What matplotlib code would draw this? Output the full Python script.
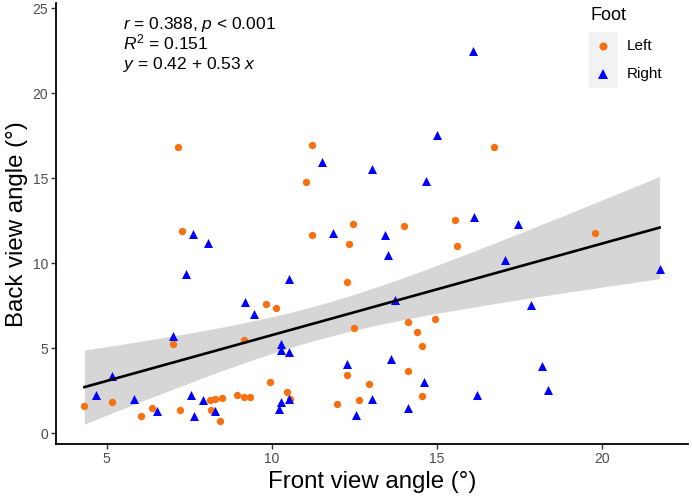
import numpy as np
import matplotlib
matplotlib.use("Agg")
import matplotlib.pyplot as plt
from matplotlib.lines import Line2D
from matplotlib.patches import Rectangle

plt.rcParams['font.family'] = ['Liberation Sans', 'DejaVu Sans']
plt.rcParams['mathtext.fontset'] = 'custom'
plt.rcParams['mathtext.rm'] = 'Liberation Sans'
plt.rcParams['mathtext.it'] = 'Liberation Sans:italic'

# ---- data ----
left_x = [7.16, 11.23, 11.05, 7.28, 11.23, 12.45, 12.34, 16.72, 15.56, 13.99, 19.78,
          15.61, 12.28, 9.82, 10.12, 12.49, 7.0, 9.17, 12.28, 9.94, 12.95, 10.45,
          10.56, 8.12, 8.27, 8.5, 8.95, 9.17, 9.34, 5.16, 4.33, 6.38, 6.05, 7.23,
          8.16, 8.44, 11.98, 12.65, 14.12, 14.95, 14.39, 14.55, 14.12, 14.55]
left_y = [16.86, 16.98, 14.76, 11.9, 11.66, 12.33, 11.12, 16.82, 12.56, 12.18, 11.78,
          11.0, 8.9, 7.59, 7.35, 6.18, 5.25, 5.51, 3.45, 3.04, 2.88, 2.45,
          2.04, 1.94, 2.04, 2.1, 2.25, 2.12, 2.12, 1.86, 1.61, 1.47, 1.02, 1.35,
          1.37, 0.74, 1.7, 1.96, 6.53, 6.72, 5.94, 5.12, 3.65, 2.21]
right_x = [11.51, 13.02, 7.61, 8.07, 11.84, 16.08, 15.0, 14.68, 16.12, 17.45, 13.44,
           7.39, 10.51, 9.18, 9.45, 7.0, 10.29, 10.28, 10.51, 12.28, 5.17, 4.67,
           10.51, 5.83, 7.56, 7.93, 10.29, 10.22, 6.54, 7.66, 8.28, 13.02, 12.56,
           13.52, 17.06, 21.74, 13.74, 17.84, 13.62, 18.19, 14.62, 18.36, 16.2, 14.13]
right_y = [15.98, 15.55, 11.7, 11.2, 11.8, 22.45, 17.55, 14.86, 12.74, 12.31, 11.65,
           9.39, 9.08, 7.72, 7.0, 5.72, 5.23, 4.92, 4.78, 4.09, 3.35, 2.23,
           2.04, 2.04, 2.24, 1.96, 1.82, 1.45, 1.29, 1.04, 1.29, 2.04, 1.08,
           10.47, 10.19, 9.68, 7.82, 7.57, 4.37, 3.98, 3.02, 2.56, 2.24, 1.51]
stats_lines = [r'$\mathit{r}$ = 0.388, $\mathit{p}$ < 0.001',
               r'$\mathit{R}^2$ = 0.151',
               r'$\mathit{y}$ = 0.42 + 0.53 $\mathit{x}$']
legend_title = 'Foot'
legend_labels = ['Left', 'Right']
x_ticks = [5, 10, 15, 20]
y_ticks = [0, 5, 10, 15, 20, 25]

W, H = 692, 501
fig = plt.figure(figsize=(W / 100, H / 100), dpi=100)
ax = fig.add_axes([56 / W, 1 - 444 / H, (688 - 56) / W, (444 - 3) / H])

orange = '#F8700F'
blue = '#0000FF'

# regression with 95% CI
xa = np.array(left_x + right_x)
ya = np.array(left_y + right_y)
n = len(xa)
b1, b0 = np.polyfit(xa, ya, 1)
xs = np.linspace(xa.min(), xa.max(), 200)
fit = b0 + b1 * xs
res = ya - (b0 + b1 * xa)
s = np.sqrt(np.sum(res ** 2) / (n - 2))
sxx = np.sum((xa - xa.mean()) ** 2)
se = s * np.sqrt(1 / n + (xs - xa.mean()) ** 2 / sxx)
tq = 1.988
ax.fill_between(xs, fit - tq * se, fit + tq * se, color='#D6D6D6', lw=0, zorder=1)

ax.scatter(left_x, left_y, s=28, marker='o', color=orange, lw=0, zorder=3)
ax.scatter(right_x, right_y, s=42, marker='^', color=blue, lw=0, zorder=3)
ax.plot(xs, fit, color='black', lw=1.9, zorder=4)

ax.set_xlim(3.47, 22.6)
ax.set_ylim(-0.63, 25.3)
ax.set_xticks(x_ticks)
ax.set_yticks(y_ticks)
for sp in ['top', 'right']:
    ax.spines[sp].set_visible(False)
for sp in ['left', 'bottom']:
    ax.spines[sp].set_linewidth(1.3)
    ax.spines[sp].set_color('black')
ax.tick_params(axis='both', length=3.5, width=1, color='#333333',
               labelsize=10, labelcolor='#4D4D4D', pad=2)

fig.text(372 / W, 1 - 488 / H, 'Front view angle (°)', fontsize=17.3,
         ha='center', va='baseline')
fig.text(17 / W, 1 - 224 / H, 'Back view angle (°)', fontsize=17.3,
         ha='center', va='center', rotation=90)

for i, line in enumerate(stats_lines):
    fig.text(123 / W, 1 - (29 + 20.2 * i) / H, line, fontsize=12.5,
             ha='left', va='baseline')

# legend
fig.text(590 / W, 1 - 15 / H, legend_title, fontsize=13, ha='left', va='center')
fig.patches.append(Rectangle((589 / W, 1 - 88 / H), 28 / W, 56 / H,
                             transform=fig.transFigure, color='#F2F2F2', lw=0))
fig.add_artist(Line2D([603 / W], [1 - 45.5 / H], transform=fig.transFigure,
                      marker='o', ms=5.8, color=orange, mew=0, ls=''))
fig.add_artist(Line2D([603 / W], [1 - 73.5 / H], transform=fig.transFigure,
                      marker='^', ms=7, color=blue, mew=0, ls=''))
for i, lab in enumerate(legend_labels):
    fig.text(627 / W, 1 - (46 + 28 * i) / H, lab, fontsize=11, ha='left', va='center')

fig.savefig('out.png', dpi=100)
